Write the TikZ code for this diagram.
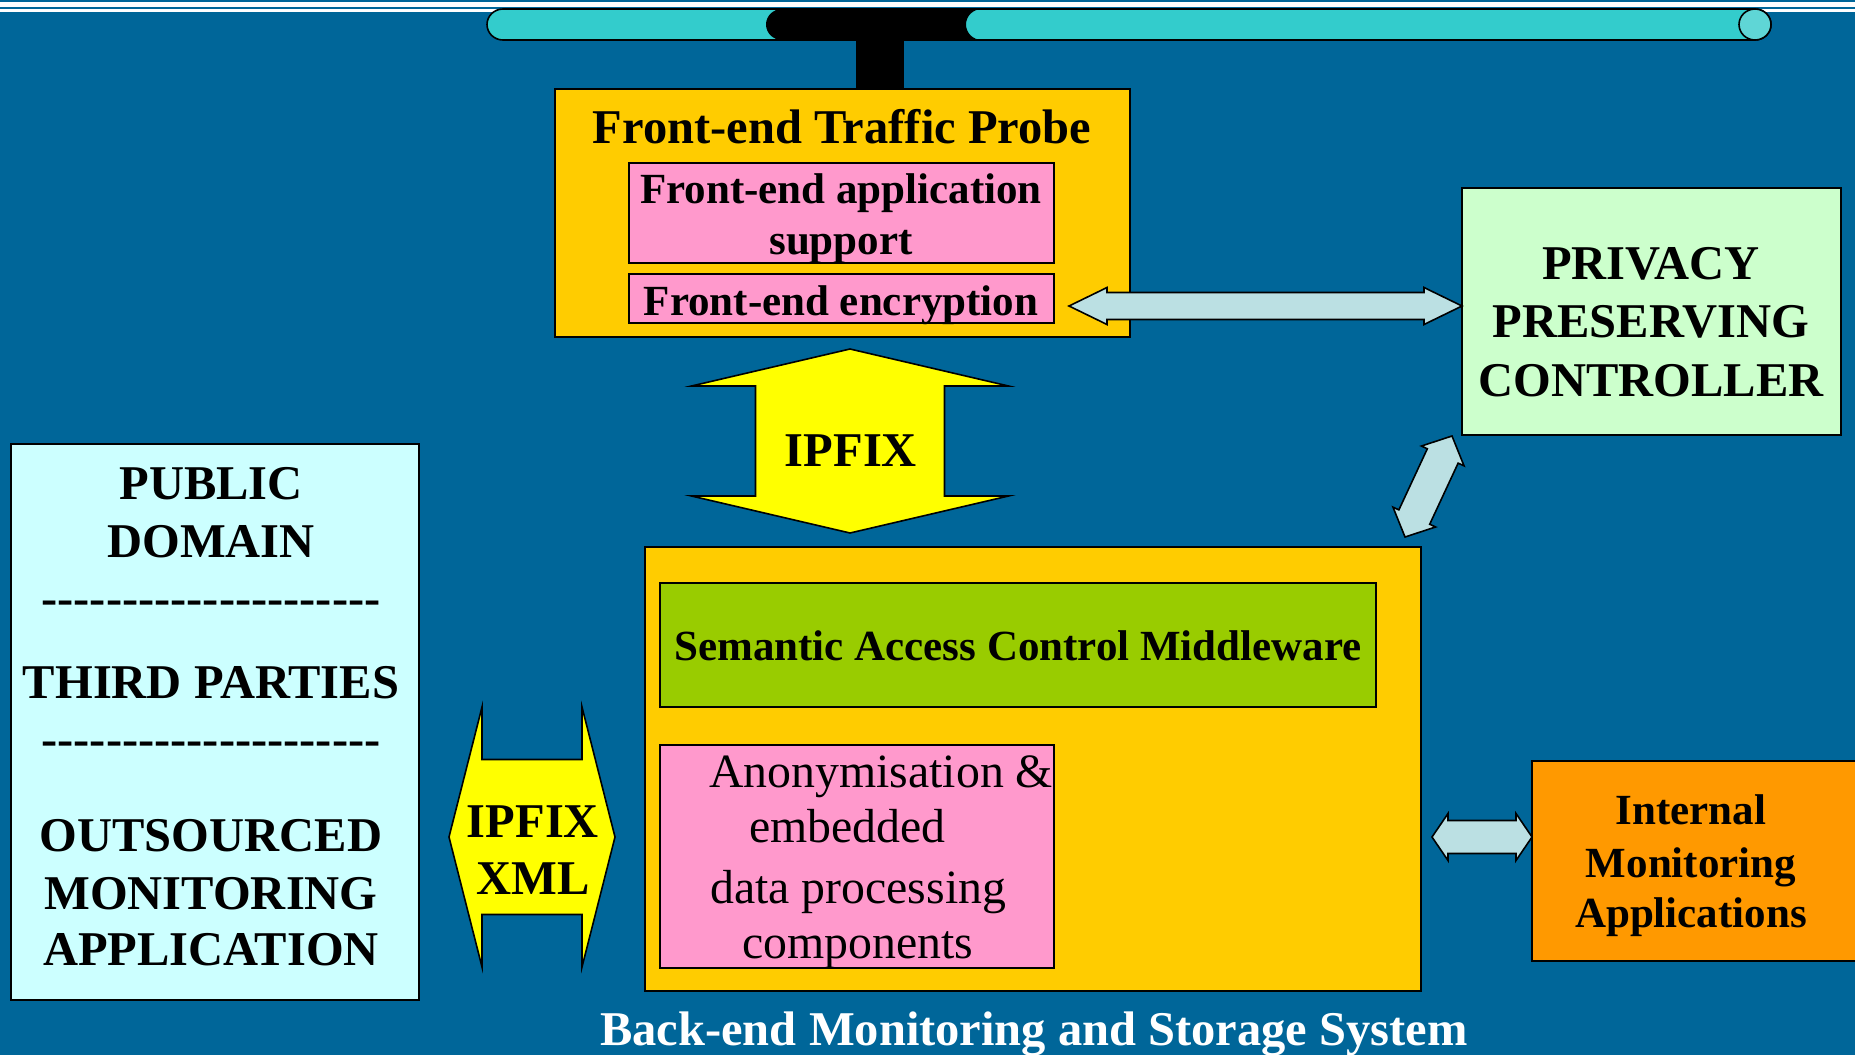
\documentclass[tikz,border=0pt]{standalone}
\usepackage{fontspec}
\setmainfont{Liberation Serif}
\usetikzlibrary{calc}
\definecolor{bg}{RGB}{0,102,153}
\definecolor{ybox}{RGB}{255,204,0}
\definecolor{pinkbox}{RGB}{255,153,204}
\definecolor{greenbox}{RGB}{153,204,0}
\definecolor{privbox}{RGB}{204,255,204}
\definecolor{pubbox}{RGB}{204,255,255}
\definecolor{orangebox}{RGB}{255,153,0}
\definecolor{lblue}{RGB}{187,224,227}
\definecolor{yarrow}{RGB}{255,255,0}
\definecolor{cyl}{RGB}{51,204,204}
\definecolor{cylcap}{RGB}{95,214,214}
\newcommand{\dblarr}[6]{%
 \draw[#1] (#2) -- ($(#2)!#4!(#3)!#5!90:(#3)$) -- ($(#2)!#4!(#3)!#6!90:(#3)$)
   -- ($(#3)!#4!(#2)!#6!-90:(#2)$) -- ($(#3)!#4!(#2)!#5!-90:(#2)$) -- (#3)
   -- ($(#3)!#4!(#2)!#5!90:(#2)$) -- ($(#3)!#4!(#2)!#6!90:(#2)$)
   -- ($(#2)!#4!(#3)!#6!-90:(#3)$) -- ($(#2)!#4!(#3)!#5!-90:(#3)$) -- cycle;}
\newcommand{\hyphenrow}{-{}-{}-{}-{}-{}-{}-{}-{}-{}-{}-{}-{}-{}-{}-{}-{}-{}-{}-{}-{}-}
\tikzset{
 box/.style={draw=black, line width=1.6pt, inner sep=0pt, outer sep=0pt, anchor=north west},
 bt/.style={font=\bfseries\fontsize{48.5}{56}\selectfont, anchor=base, inner sep=0pt},
 bs/.style={font=\bfseries\fontsize{43}{50}\selectfont, anchor=base, inner sep=0pt},
 rt/.style={font=\fontsize{47.8}{56}\selectfont, anchor=base west, inner sep=0pt},
 larr/.style={fill=lblue, draw=black, line width=1.6pt, line join=miter},
 yarr/.style={fill=yarrow, draw=black, line width=1.6pt, line join=miter},
}
\begin{document}
\begin{tikzpicture}[x=1pt,y=-1pt]
\fill[bg] (0,0) rectangle (1855,1055);
\useasboundingbox (0,0) rectangle (1855,1055);
\clip (0,0) rectangle (1855,1055);
% top stripes
\fill[white] (0,1.7) rectangle (1855,7.3);
\fill[white] (0,9) rectangle (1855,12);
% network cylinder
\filldraw[fill=cyl, draw=black, line width=1.6pt] (503,9) arc[start angle=90, end angle=270, x radius=16pt, y radius=15.5pt]
  -- (1755,40) arc[start angle=-90, end angle=90, x radius=16pt, y radius=15.5pt] -- cycle;
\fill[black] (782,9) arc[start angle=90, end angle=270, x radius=16pt, y radius=15.5pt]
  -- (982,40) arc[start angle=270, end angle=90, x radius=16pt, y radius=15.5pt] -- cycle;
\filldraw[fill=cylcap, draw=black, line width=1.6pt] (1755,24.5) ellipse [x radius=16pt, y radius=15.5pt];
\fill[black] (856,39) rectangle (904,89);

% boxes
\node[box, fill=ybox, minimum width=575pt, minimum height=248pt] (fe) at (555,89) {};
\node[box, fill=pinkbox, minimum width=425pt, minimum height=100pt] (fapp) at (629,163) {};
\node[box, fill=pinkbox, minimum width=425pt, minimum height=49pt] (fenc) at (629,274) {};
\node[box, fill=privbox, minimum width=379pt, minimum height=247pt] (priv) at (1462,188) {};
\node[box, fill=pubbox, minimum width=408pt, minimum height=556pt] (pub) at (11,444) {};
\node[box, fill=ybox, minimum width=776pt, minimum height=444pt] (be) at (645,547) {};
\node[box, fill=greenbox, minimum width=716pt, minimum height=124pt] (sem) at (660,583) {};
\node[box, fill=pinkbox, minimum width=394pt, minimum height=223pt] (anon) at (660,745) {};
\node[box, fill=orangebox, minimum width=338pt, minimum height=200pt] (intl) at (1532,761) {};

% texts
\node[bt] (feT) at (842,143) {Front-end Traffic Probe};
\node[bs] (fapp1) at (841,203) {Front-end application};
\node[bs] (fapp2) at (841,254) {support};
\node[bs] (fencT) at (841,315) {Front-end encryption};
\node[bt] (priv1) at (1651,279) {PRIVACY};
\node[bt] (priv2) at (1651,337) {PRESERVING};
\node[bt] (priv3) at (1651,396) {CONTROLLER};
\node[bt] (pub1) at (211,499) {PUBLIC};
\node[bt] (pub2) at (211,557) {DOMAIN};
\node[bt] (pub3) at (211,614) {\hyphenrow};
\node[bt] (pub4) at (211,698) {THIRD PARTIES};
\node[bt] (pub5) at (211,755) {\hyphenrow};
\node[bt] (pub6) at (211,851) {OUTSOURCED};
\node[bt] (pub7) at (211,909) {MONITORING};
\node[bt] (pub8) at (211,965) {APPLICATION};
\node[bs] (semT) at (1018,660) {Semantic Access Control Middleware};
\node[rt] (anon1) at (709,787) {Anonymisation \&};
\node[rt] (anon2) at (749,842) {embedded};
\node[rt] (anon3) at (710,903) {data processing};
\node[rt] (anon4) at (742,958) {components};
\node[bs] (intl1) at (1691,824) {Internal};
\node[bs] (intl2) at (1691,877) {Monitoring};
\node[bs] (intl3) at (1691,927) {Applications};
\node[bt, text=white] (beT) at (1034,1045) {Back-end Monitoring and Storage System};

% connector end points
\coordinate (hA) at (1069,306);
\coordinate (hB) at (priv.west |- hA);
\coordinate (dA) at (1405,537);
\coordinate (dB) at (1452,436);
\coordinate (iA) at (1432,837);
\coordinate (iB) at (intl.west |- iA);
\coordinate (pA) at (850,349);
\coordinate (pB) at (850,533);
\coordinate (xA) at (449,837);
\coordinate (xB) at (615,837);

% double arrows
\dblarr{larr}{hA}{hB}{38pt}{18.5pt}{13.5pt}
\dblarr{larr}{dA}{dB}{22pt}{23.5pt}{17pt}
\dblarr{larr}{iA}{iB}{16pt}{23.5pt}{16.5pt}
\dblarr{yarr}{pA}{pB}{37pt}{158.5pt}{94.5pt}
\dblarr{yarr}{xA}{xB}{33pt}{130pt}{77.5pt}
\node[bt] (ipfix) at (851,466) {IPFIX};
\node[bt] (xml1) at (533,837) {IPFIX};
\node[bt] (xml2) at (533,894) {XML};
\end{tikzpicture}
\end{document}
